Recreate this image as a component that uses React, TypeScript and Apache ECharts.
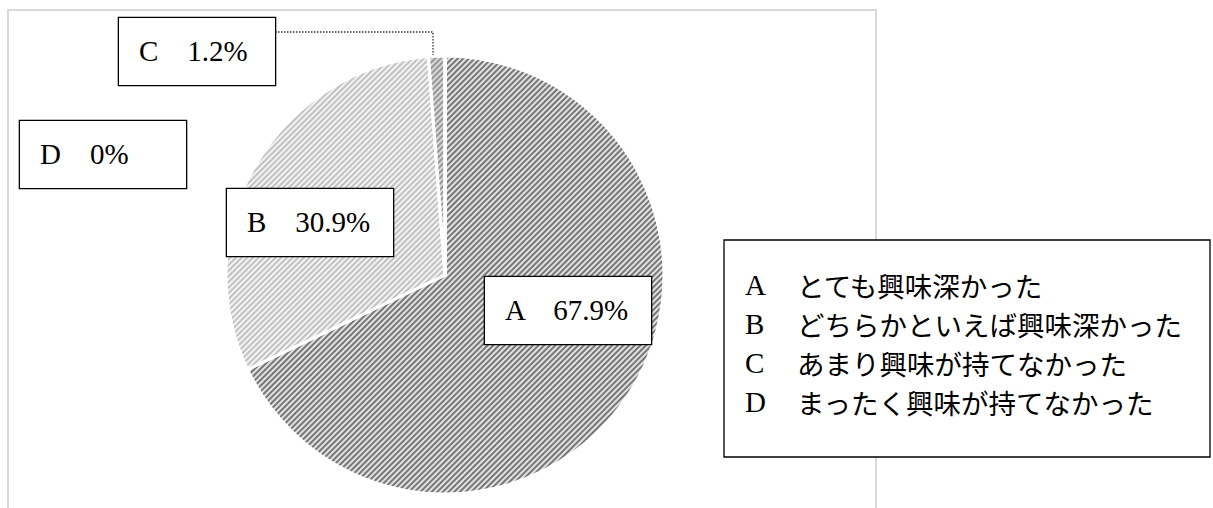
import React, { useEffect, useRef } from "react";
import * as echarts from "echarts";

const categories = ["A", "B", "C", "D"];
const descriptions = [
  "とても興味深かった",
  "どちらかといえば興味深かった",
  "あまり興味が持てなかった",
  "まったく興味が持てなかった",
];
const values = [67.9, 30.9, 1.2, 0];

const fills = ["#e2e2e2", "#f3f3f3", "#d8d8d8", "#ffffff"];
const hatch = ["#777777", "#c2c2c2", "#969696", "#ffffff"];

// label box placement (top-left corner, content width)
const labelBoxes = [
  { x: 485, y: 277, w: 146 },
  { x: 227, y: 189, w: 146 },
  { x: 119, y: 18, w: 136 },
  { x: 20, y: 121, w: 146 },
];

const SERIF = "'Liberation Serif', 'Times New Roman', 'Noto Sans CJK JP', serif";
const JP = "'Noto Sans CJK JP', sans-serif";

export default function App() {
  const ref = useRef<HTMLDivElement>(null);
  useEffect(() => {
    if (!ref.current) return;
    const chart = echarts.init(ref.current, undefined, { renderer: "svg" });
    const data = categories.map((c, i) => ({
      name: c,
      value: values[i],
      itemStyle: {
        color: fills[i],
        decal: {
          symbol: "rect",
          color: hatch[i],
          dashArrayX: [1, 0],
          dashArrayY: [1.5, 2],
          rotation: -Math.PI / 4,
        },
      },
      label: { width: labelBoxes[i].w },
    }));
    chart.setOption({
      animation: false,
      backgroundColor: "#ffffff",
      graphic: [
        {
          type: "rect",
          z: 0,
          shape: { x: 8, y: 10, width: 868, height: 540 },
          style: { fill: "none", stroke: "#d9d9d9", lineWidth: 2 },
        },
        {
          type: "polyline",
          z: 1,
          shape: { points: [[275, 32], [433, 32], [433, 70]] },
          style: { fill: "none", stroke: "#333", lineWidth: 1.3, lineDash: [1.5, 1.5] },
        },
      ],
      legend: {
        orient: "vertical",
        left: 724,
        top: 240,
        icon: "none",
        itemWidth: 0,
        itemHeight: 30,
        itemGap: 9,
        selectedMode: false,
        padding: [30, 28, 40, 16],
        backgroundColor: "#ffffff",
        borderColor: "#000000",
        borderWidth: 1.3,
        borderRadius: 0,
        data: categories,
        formatter: (name: string) => {
          const i = categories.indexOf(name);
          return `{a|${name}}{b|${descriptions[i]}}`;
        },
        textStyle: {
          color: "#000",
          lineHeight: 30,
          rich: {
            a: { fontFamily: SERIF, fontSize: 29, width: 52, color: "#000", lineHeight: 30 },
            b: { fontFamily: JP, fontSize: 27.5, color: "#000", lineHeight: 30 },
          },
        },
      },
      series: [
        {
          type: "pie",
          center: [445, 275],
          radius: 219,
          startAngle: 90,
          clockwise: true,
          stillShowZeroSum: true,
          minShowLabelAngle: 0,
          avoidLabelOverlap: false,
          itemStyle: { borderColor: "#ffffff", borderWidth: 3 },
          emphasis: { disabled: true },
          label: {
            show: true,
            position: "inside",
            formatter: (p: any) => `${p.name}　${p.value}%`,
            fontFamily: SERIF,
            fontSize: 29,
            lineHeight: 28,
            color: "#000",
            align: "left",
            backgroundColor: "#ffffff",
            borderColor: "#000000",
            borderWidth: 1.3,
            padding: [19, 0, 20, 20],
          },
          labelLine: { show: false },
          labelLayout: (params: any) => {
            const b = labelBoxes[params.dataIndex];
            return { x: b.x, y: b.y, align: "left", verticalAlign: "top" };
          },
          data,
        },
      ],
    });
    return () => chart.dispose();
  }, []);
  return (
    <div
      ref={ref}
      style={{ position: "absolute", left: 0, top: 0, width: 1213, height: 508 }}
    />
  );
}
